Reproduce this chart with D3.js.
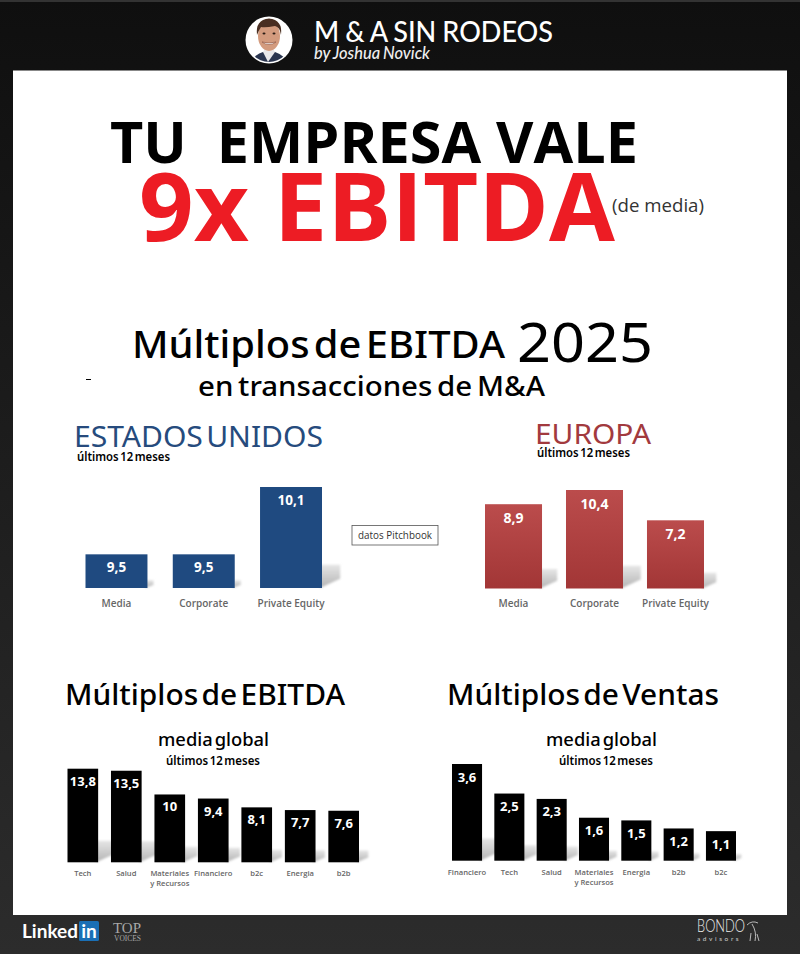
<!DOCTYPE html>
<html>
<head>
<meta charset="utf-8">
<script src="https://cdn.jsdelivr.net/npm/d3@7"></script>
<style>
  html, body { margin: 0; padding: 0; background: #fff; }
  svg { display: block; }
  text { white-space: pre; }
</style>
</head>
<body>
<svg width="800" height="954"></svg>
<script>
// chart values
var usCategories = ['Media', 'Corporate', 'Private Equity'];
var usValues = [9.5, 9.5, 10.1];
var euCategories = ['Media', 'Corporate', 'Private Equity'];
var euValues = [8.9, 10.4, 7.2];
var ebitdaCategories = ['Tech', 'Salud', 'Materiales\ny Recursos', 'Financiero', 'b2c', 'Energia', 'b2b'];
var ebitdaValues = [13.8, 13.5, 10, 9.4, 8.1, 7.7, 7.6];
var salesCategories = ['Financiero', 'Tech', 'Salud', 'Materiales\ny Recursos', 'Energia', 'b2b', 'b2c'];
var salesValues = [3.6, 2.5, 2.3, 1.6, 1.5, 1.2, 1.1];

var svg = d3.select('svg');
var defs = svg.append('defs');
var sans = '"Open Sans", "Noto Sans", sans-serif';
var noto = '"Noto Sans", "Open Sans", sans-serif';
var lato = 'Lato, sans-serif';

// gradients and blur
var frameGrad = defs.append('linearGradient').attr('id', 'frame').attr('x2', 0).attr('y2', 1);
frameGrad.append('stop').attr('offset', 0).attr('stop-color', '#0f0f0f');
frameGrad.append('stop').attr('offset', 1).attr('stop-color', '#2c2c2c');
var redGrad = defs.append('linearGradient').attr('id', 'redbar').attr('x2', 0).attr('y2', 1);
redGrad.append('stop').attr('offset', 0).attr('stop-color', '#bb4c4c');
redGrad.append('stop').attr('offset', 1).attr('stop-color', '#a23636');
var shadowGrad = defs.append('linearGradient').attr('id', 'shadow').attr('x2', 0).attr('y2', 1);
shadowGrad.append('stop').attr('offset', 0).attr('stop-color', '#e6e6e6');
shadowGrad.append('stop').attr('offset', 1).attr('stop-color', '#b4b4b4');
defs.append('filter').attr('id', 'soft').attr('x', '-30%').attr('y', '-30%').attr('width', '160%').attr('height', '160%')
  .append('feGaussianBlur').attr('stdDeviation', 1.2);
defs.append('filter').attr('id', 'photo')
  .append('feGaussianBlur').attr('stdDeviation', 0.6);
defs.append('clipPath').attr('id', 'avatar')
  .append('circle').attr('cx', 269).attr('cy', 40).attr('r', 22);

function label(x, y, str, size, opts) {
  opts = opts || {};
  var t = svg.append('text')
    .attr('x', x)
    .attr('y', y)
    .attr('font-family', opts.family || sans)
    .attr('font-size', size)
    .attr('font-weight', opts.weight || 400)
    .attr('font-style', opts.style || 'normal')
    .attr('fill', opts.fill || '#000')
    .attr('text-anchor', opts.anchor || 'start')
    .text(str);
  // the original sets its words close together
  if (opts.wordGap) t.style('word-spacing', opts.wordGap + 'em');
  if (opts.spacing) t.style('letter-spacing', opts.spacing + 'px');
  // stretch to the measured width of the original
  if (opts.len) t.attr('textLength', opts.len).attr('lengthAdjust', 'spacingAndGlyphs');
  return t;
}

function drawBars(c) {
  var x = d3.scaleBand().domain(c.categories).range(c.xRange).paddingInner(c.padding);
  var y = d3.scaleLinear().domain(c.domain).range(c.yRange);
  var bottom = c.yRange[0];
  var g = svg.append('g');
  var data = c.values.map(function(v, i) { return { name: c.categories[i], value: v }; });

  // floor shadow leaning out from the right side of each bar
  g.selectAll('polygon').data(data).enter().append('polygon')
    .attr('points', function(d) {
      var h = bottom - y(d.value);
      var x1 = x(d.name) + x.bandwidth();
      var sx = h * 0.18;
      var sy = h * 0.23;
      return [[x1 - 2, bottom], [x1 - 2, bottom - sy], [x1 + sx, bottom - sy], [x1 + sx, bottom - sy * 0.4]].join(' ');
    })
    .attr('fill', 'url(#shadow)')
    .attr('filter', 'url(#soft)');

  g.selectAll('rect').data(data).enter().append('rect')
    .attr('x', function(d) { return x(d.name); })
    .attr('y', function(d) { return y(d.value); })
    .attr('width', x.bandwidth())
    .attr('height', function(d) { return bottom - y(d.value); })
    .attr('fill', c.fill);

  g.selectAll('text.val').data(data).enter().append('text')
    .attr('class', 'val')
    .attr('x', function(d) { return x(d.name) + x.bandwidth() / 2; })
    .attr('y', function(d) { return y(d.value) + c.valueDy; })
    .attr('text-anchor', 'middle')
    .attr('font-family', sans)
    .attr('font-weight', 700)
    .attr('font-size', c.valueSize)
    .attr('fill', '#fff')
    .text(function(d) { return String(d.value).replace('.', ','); });

  // category names, some on two lines
  var names = g.selectAll('text.cat').data(data).enter().append('text')
    .attr('class', 'cat')
    .attr('text-anchor', 'middle')
    .attr('font-family', sans)
    .attr('font-weight', 600)
    .attr('font-size', c.catSize)
    .attr('fill', '#666');
  names.each(function(d) {
    var el = d3.select(this);
    d.name.split('\n').forEach(function(line, i) {
      el.append('tspan')
        .attr('x', x(d.name) + x.bandwidth() / 2)
        .attr('y', c.catY + i * c.catLine)
        .text(line);
    });
  });
}

// frame
svg.append('rect').attr('width', 800).attr('height', 954).attr('fill', 'url(#frame)');
svg.append('rect').attr('width', 800).attr('height', 2).attr('fill', '#333');
svg.append('rect').attr('x', 13).attr('y', 70.5).attr('width', 774).attr('height', 844.5).attr('fill', '#fff');

// header portrait
svg.append('circle').attr('cx', 269).attr('cy', 40).attr('r', 23.5).attr('fill', '#fff');
var face = svg.append('g').attr('clip-path', 'url(#avatar)').attr('filter', 'url(#photo)');
face.append('path').attr('d', 'M251 64 Q253 55 263 52 L275 52 Q285 55 287 64 Z').attr('fill', '#2a3550');
face.append('path').attr('d', 'M263 52 L268 62 L275 52 L272 47 L266 47 Z').attr('fill', '#e8e8ea');
face.append('ellipse').attr('cx', 269).attr('cy', 36).attr('rx', 11).attr('ry', 15).attr('fill', '#d39b7e');
face.append('path').attr('d', 'M257 35 Q255 20 269 18.5 Q283 20 281 35 Q280 27 275 26 Q265 28 261 27 Q259 30 257 35 Z').attr('fill', '#4a2f20');
face.append('path').attr('d', 'M262 42 Q269 47 276 42 Q269 44 262 42 Z').attr('fill', '#fff').attr('stroke', '#8a4f3a').attr('stroke-width', 0.6);
face.append('ellipse').attr('cx', 264).attr('cy', 33.5).attr('rx', 1.5).attr('ry', 0.9).attr('fill', '#2b1c14');
face.append('ellipse').attr('cx', 274).attr('cy', 33.5).attr('rx', 1.5).attr('ry', 0.9).attr('fill', '#2b1c14');

label(314, 42, 'M & A SIN RODEOS', 28, { family: lato, weight: 500, fill: '#fff', wordGap: -0.03, len: 239 });
label(314, 59, 'by Joshua Novick', 17, { family: lato, weight: 500, style: 'italic', fill: '#eee', wordGap: -0.05, len: 116 });

// headline
label(110, 163, 'TU  EMPRESA VALE', 57, { weight: 700, len: 528 });
label(139, 241, '9x EBITDA', 95, { weight: 700, fill: '#ed1c24', len: 476 });
label(612, 212, '(de media)', 18, { fill: '#333', len: 92 });

label(132, 358, 'Múltiplos de EBITDA', 38, { family: noto, weight: 500, wordGap: -0.15, len: 373 });
label(517, 362, '2025', 54, { family: noto, len: 136 });
label(198, 396, 'en transacciones de M&A', 27, { family: noto, weight: 500, wordGap: -0.1, len: 347 });
svg.append('rect').attr('x', 86).attr('y', 379).attr('width', 5).attr('height', 1).attr('fill', '#000');

// US and Europe
label(74, 447, 'ESTADOS UNIDOS', 29, { family: noto, fill: '#264b7d', wordGap: -0.15, len: 249 });
label(77, 461, 'últimos 12 meses', 12, { family: noto, weight: 600, wordGap: -0.12, len: 93 });
drawBars({
  categories: usCategories, values: usValues, fill: '#1f4a80',
  xRange: [85.5, 322], padding: 0.29, domain: [9.2, 10.1], yRange: [588, 487],
  valueDy: 18, valueSize: 13.5, catY: 607, catSize: 10, catLine: 10
});

label(535, 444, 'EUROPA', 28, { family: noto, fill: '#a23a3e', len: 116 });
label(537, 457, 'últimos 12 meses', 12, { family: noto, weight: 600, wordGap: -0.12, len: 93 });
drawBars({
  categories: euCategories, values: euValues, fill: 'url(#redbar)',
  xRange: [485, 704], padding: 0.296, domain: [0, 10.4], yRange: [588.5, 490],
  valueDy: 19, valueSize: 14, catY: 607, catSize: 10, catLine: 10
});

// source box
svg.append('rect').attr('x', 352).attr('y', 525.5).attr('width', 86).attr('height', 19.5)
  .attr('fill', '#fff').attr('stroke', '#555').attr('stroke-width', 0.8);
label(395, 538.5, 'datos Pitchbook', 10.5, { anchor: 'middle', fill: '#333', len: 74 });

// global multiples
label(65, 705, 'Múltiplos de EBITDA', 28, { family: noto, weight: 500, wordGap: -0.15, len: 280 });
label(158, 746, 'media global', 18, { family: noto, weight: 500, wordGap: -0.15, len: 111 });
label(166, 765, 'últimos 12 meses', 12, { family: noto, weight: 600, wordGap: -0.12, len: 94 });
drawBars({
  categories: ebitdaCategories, values: ebitdaValues, fill: '#000',
  xRange: [67.5, 359], padding: 0.295, domain: [0, 13.8], yRange: [862.3, 768.7],
  valueDy: 17, valueSize: 13, catY: 876, catSize: 7.6, catLine: 10
});

label(447, 705, 'Múltiplos de Ventas', 28, { family: noto, weight: 500, wordGap: -0.15, len: 272 });
label(546, 746, 'media global', 18, { family: noto, weight: 500, wordGap: -0.15, len: 111 });
label(559, 765, 'últimos 12 meses', 12, { family: noto, weight: 600, wordGap: -0.12, len: 94 });
drawBars({
  categories: salesCategories, values: salesValues, fill: '#000',
  xRange: [452, 736], padding: 0.29, domain: [0, 3.6], yRange: [860.7, 764],
  valueDy: 17.5, valueSize: 13, catY: 875, catSize: 7.6, catLine: 10
});

// footer marks
label(22, 938, 'Linked', 19, { family: lato, weight: 700, fill: '#fff', len: 56 });
svg.append('rect').attr('x', 79).attr('y', 921).attr('width', 20).attr('height', 20).attr('rx', 1.5).attr('fill', '#1a6fb5');
label(89, 938, 'in', 19, { family: lato, weight: 700, fill: '#fff', anchor: 'middle' });
label(113, 933, 'TOP', 14, { family: '"Liberation Serif", serif', fill: '#a8a8a8', len: 28 });
label(114, 941, 'VOICES', 7.5, { family: '"Liberation Serif", serif', fill: '#a8a8a8', len: 27 });
label(697, 932, 'BONDO', 17, { family: lato, weight: 300, fill: '#eee', len: 48 });
label(697, 941, 'advisors', 6.5, { family: lato, fill: '#ccc', spacing: 2.6 });
svg.append('path')
  .attr('d', 'M747 925 Q752 920 758 923 M752 924 Q757 932 755 941 M750 941 L751 933 M759 941 L757 934')
  .attr('fill', 'none').attr('stroke', '#ddd').attr('stroke-width', 0.8);
</script>
</body>
</html>
